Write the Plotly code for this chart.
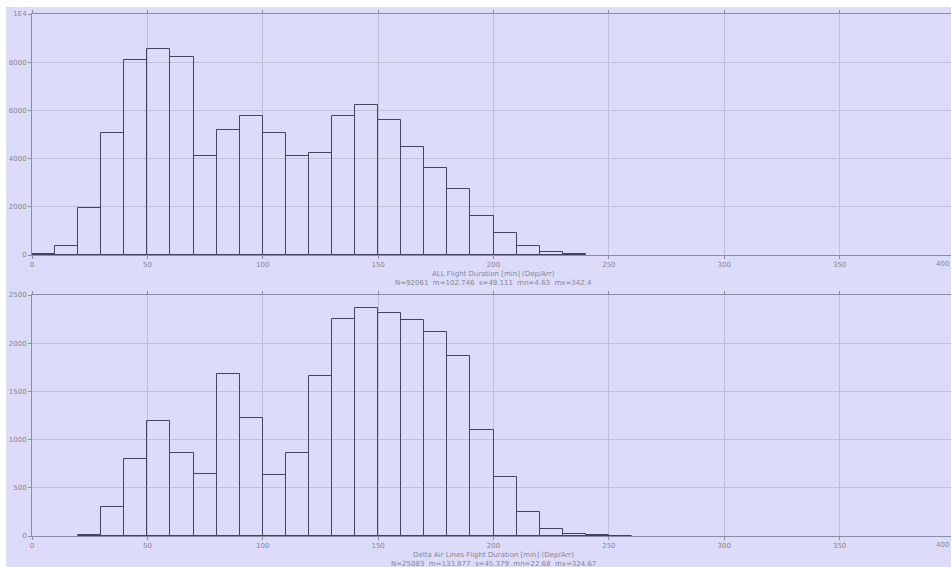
import plotly.graph_objects as go
from plotly.subplots import make_subplots

# Flight duration histograms, 10-minute bins (counts per bin)
bin_width = 10
all_bin_starts = list(range(0, 240, 10))
all_counts = [45, 390, 1940, 5070, 8080, 8535, 8215, 4110, 5190, 5760, 5050, 4110,
              4230, 5760, 6215, 5620, 4470, 3595, 2750, 1600, 925, 375, 110, 40]

delta_bin_starts = list(range(20, 260, 10))
delta_counts = [10, 300, 797, 1197, 861, 640, 1685, 1223, 637, 861, 1658, 2254,
                2362, 2310, 2241, 2120, 1868, 1099, 613, 250, 75, 22, 8, 5]

all_title = "ALL Flight Duration [min] (Dep/Arr)"
all_stats = "N=92061  m=102.746  s=49.111  mn=4.63  mx=342.4"
delta_title = "Delta Air Lines Flight Duration [min] (Dep/Arr)"
delta_stats = "N=25083  m=133.877  s=45.379  mn=22.68  mx=324.67"

x_ticks = [0, 50, 100, 150, 200, 250, 300, 350]
all_yticks = [0, 2000, 4000, 6000, 8000, 10000]
all_yticktext = ["0", "2000", "4000", "6000", "8000", "1E4"]
delta_yticks = [0, 500, 1000, 1500, 2000, 2500]

BG = "#dcdcfa"
GRID = "#c0c0d6"
AXIS = "#8c8ca4"
TEXT = "#86868f"
BAR_LINE = "#444462"
FONT = "DejaVu Sans"

W, H = 951, 567
ML, MR, MT, MB = 32, 0, 14, 31
plot_w = W - ML - MR
plot_h = H - MT - MB
# axis spans 0..400 over 923 px; the window cuts it off a little before 400
x_max = 400 * plot_w / 923.0

top_dom = [(plot_h - 241) / plot_h, 1.0]
bot_dom = [0.0, 241 / plot_h]

fig = make_subplots(rows=2, cols=1)

def centers(starts):
    return [s + bin_width / 2 for s in starts]

fig.add_trace(go.Bar(x=centers(all_bin_starts), y=all_counts, width=bin_width,
                     marker=dict(color="rgba(0,0,0,0)", line=dict(color=BAR_LINE, width=1)),
                     showlegend=False), row=1, col=1)
fig.add_trace(go.Bar(x=centers(delta_bin_starts), y=delta_counts, width=bin_width,
                     marker=dict(color="rgba(0,0,0,0)", line=dict(color=BAR_LINE, width=1)),
                     showlegend=False), row=2, col=1)

xcommon = dict(range=[0, x_max], tickvals=x_ticks, showgrid=True, gridcolor=GRID, gridwidth=1,
               showline=True, linecolor=AXIS, linewidth=1, mirror="ticks",
               ticks="outside", ticklen=3, tickcolor=AXIS, zeroline=False,
               tickfont=dict(family=FONT, size=7, color=TEXT))
ycommon = dict(showgrid=True, gridcolor=GRID, gridwidth=1,
               showline=True, linecolor=AXIS, linewidth=1,
               ticks="outside", ticklen=3, tickcolor=AXIS, zeroline=False,
               tickfont=dict(family=FONT, size=7, color=TEXT))

fig.update_layout(
    xaxis=dict(**xcommon, domain=[0, 1], anchor="y"),
    yaxis=dict(**ycommon, domain=top_dom, range=[0, 10000], tickvals=all_yticks,
               ticktext=all_yticktext, anchor="x"),
    xaxis2=dict(**xcommon, domain=[0, 1], anchor="y2"),
    yaxis2=dict(**ycommon, domain=bot_dom, range=[0, 2500], tickvals=delta_yticks, anchor="x2"),
)

annotations = []
for yref_dom, title, stats in [(top_dom[0], all_title, all_stats), (bot_dom[0], delta_title, delta_stats)]:
    annotations.append(dict(xref="x", x=200, yref="paper", y=yref_dom, yanchor="middle",
                            yshift=-19, text=title, showarrow=False,
                            font=dict(family=FONT, size=7, color=TEXT)))
    annotations.append(dict(xref="x", x=200, yref="paper", y=yref_dom, yanchor="middle",
                            yshift=-28, text=stats, showarrow=False,
                            font=dict(family=FONT, size=7, color=TEXT)))
    # "400" tick label at the far right edge
    annotations.append(dict(xref="paper", x=1.0, yref="paper", y=yref_dom,
                            yanchor="top", yshift=-3, xanchor="right", text="400",
                            showarrow=False, font=dict(family=FONT, size=7, color=TEXT)))

fig.update_layout(
    width=W, height=H,
    margin=dict(l=ML, r=MR, t=MT, b=MB, pad=0),
    paper_bgcolor="white",
    plot_bgcolor=BG,
    bargap=0,
    annotations=annotations,
    shapes=[dict(type="rect", xref="paper", yref="paper",
                 x0=(6 - ML) / plot_w, x1=1.02, y0=-MB / plot_h - 0.02, y1=(plot_h + MT - 7) / plot_h,
                 fillcolor=BG, line=dict(width=0), layer="below")],
)

fig.write_html("out.html")
